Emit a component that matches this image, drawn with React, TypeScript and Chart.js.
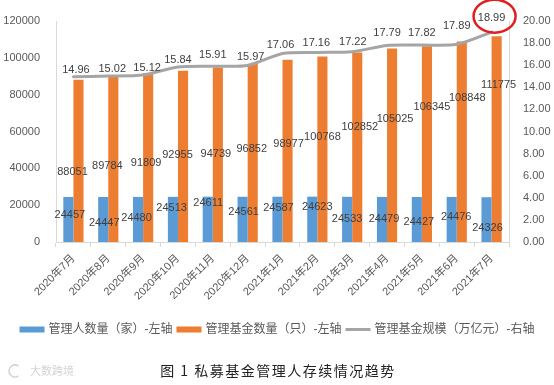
import React, { useEffect, useRef } from "react";
import { Chart, registerables } from "chart.js";

Chart.register(...registerables);

const categories = [
  "2020年7月", "2020年8月", "2020年9月", "2020年10月", "2020年11月", "2020年12月",
  "2021年1月", "2021年2月", "2021年3月", "2021年4月", "2021年5月", "2021年6月", "2021年7月",
];
const managers = [24457, 24447, 24480, 24513, 24611, 24561, 24587, 24623, 24533, 24479, 24427, 24476, 24326];
const funds = [88051, 89784, 91809, 92955, 94739, 96852, 98977, 100768, 102852, 105025, 106345, 108848, 111775];
const scale = [14.96, 15.02, 15.12, 15.84, 15.91, 15.97, 17.06, 17.16, 17.22, 17.79, 17.82, 17.89, 18.99];

const seriesNames = [
  "管理人数量（家）-左轴",
  "管理基金数量（只）-左轴",
  "管理基金规模（万亿元）-右轴",
];
const titleText = "图 1 私募基金管理人存续情况趋势";
const watermarkText = "大数跨境";

const BLUE = "#5B9BD5";
const ORANGE = "#ED7D31";
const GRAY = "#A5A5A5";
const TEXT = "#595959";
const LABEL = "#404040";
const AXIS = "#D9D9D9";
const FONT = "'Liberation Sans', 'Noto Sans CJK SC', sans-serif";

// label placement (pixel offsets, Excel-like manual label positions)
const blueDx = [1.5, 1, -1.5, -1.3, 0.5, 1, 1, 5, 0, 2, 2, 4.5, 1];
const blueDy = [18, 26, 21, 11, 6, 15, 11, 10, 22, 22, 25, 20, 31];
const orangeDx = [-6, -6, -2, -5.5, -2, -1, 1, 0, 2.6, 3, 5, 5.5, 2];
const orangeDy = [92, 89, 90, 84, 86, 85, 84, 81, 74, 70, 61, 56, 49];
const lineDx = [2.5, 4, 4, 0, 0, 3, -2, -1, 0.6, 0, 0, 0, 0];
const lineDy = [-7, -6.7, -6.6, -7, -11, -9, -8.5, -9.7, -10, -12, -12, -18.6, -14];

const labelsPlugin = {
  id: "customLabels",
  afterDatasetsDraw(chart: any) {
    const ctx = chart.ctx;
    ctx.save();
    ctx.font = `11px ${FONT}`;
    ctx.fillStyle = LABEL;
    ctx.textAlign = "center";
    ctx.textBaseline = "middle";
    const m0 = chart.getDatasetMeta(0);
    m0.data.forEach((el: any, i: number) => {
      ctx.fillText(String(managers[i]), el.x + blueDx[i], el.y + blueDy[i]);
    });
    const m1 = chart.getDatasetMeta(1);
    m1.data.forEach((el: any, i: number) => {
      ctx.fillText(String(funds[i]), el.x + orangeDx[i], el.y + orangeDy[i]);
    });
    const m2 = chart.getDatasetMeta(2);
    m2.data.forEach((el: any, i: number) => {
      ctx.fillText(scale[i].toFixed(2), el.x + lineDx[i], el.y + lineDy[i]);
    });
    // red highlight circle around the last value label
    const last = m2.data[m2.data.length - 1];
    if (last) {
      ctx.strokeStyle = "#E02020";
      ctx.lineWidth = 2.5;
      ctx.beginPath();
      ctx.ellipse(last.x + 3, last.y - 16, 21, 16.5, 0, 0, Math.PI * 2);
      ctx.stroke();
    }
    ctx.restore();
  },
};

const legendTitlePlugin = {
  id: "legendTitle",
  afterDraw(chart: any) {
    const ctx = chart.ctx;
    const W = chart.width;
    ctx.save();
    // legend
    ctx.font = `12px ${FONT}`;
    ctx.textBaseline = "middle";
    ctx.textAlign = "left";
    const colors = [BLUE, ORANGE, GRAY];
    const boxW = 25;
    const g1 = 4;
    const g2 = 4;
    const widths = seriesNames.map((t) => ctx.measureText(t).width);
    const total = widths.reduce((a, b) => a + b, 0) + 3 * (boxW + g1) + 2 * g2;
    let x = (W - total) / 2;
    const ly = 329.5;
    seriesNames.forEach((t, i) => {
      ctx.fillStyle = colors[i];
      if (i < 2) ctx.fillRect(x, ly - 3, boxW, 6);
      else ctx.fillRect(x, ly - 1.5, boxW, 3);
      x += boxW + g1;
      ctx.fillStyle = TEXT;
      ctx.fillText(t, x, ly);
      x += widths[i] + g2;
    });
    // title
    ctx.font = `14px 'Noto Sans CJK SC', serif`;
    (ctx as any).letterSpacing = "1.5px";
    ctx.fillStyle = "#222222";
    ctx.textAlign = "center";
    ctx.fillText(titleText, W / 2 + 1, 371);
    // watermark
    (ctx as any).letterSpacing = "0px";
    ctx.font = `11px 'Noto Sans CJK SC', sans-serif`;
    ctx.fillStyle = "#D4D4D4";
    ctx.textAlign = "left";
    ctx.fillText(watermarkText, 30, 371);
    ctx.strokeStyle = "#D4D4D4";
    ctx.lineWidth = 1.5;
    ctx.beginPath();
    ctx.arc(15, 371, 6, Math.PI * 0.3, Math.PI * 1.7);
    ctx.stroke();
    ctx.restore();
  },
};

export default function App() {
  const ref = useRef<HTMLCanvasElement | null>(null);
  useEffect(() => {
    document.body.style.margin = "0";
    const canvas = ref.current;
    if (!canvas) return;
    const chart = new Chart(canvas, {
      type: "bar",
      data: {
        labels: categories,
        datasets: [
          {
            type: "bar",
            label: seriesNames[0],
            data: managers,
            backgroundColor: BLUE,
            yAxisID: "y",
            order: 1,
            categoryPercentage: 0.58,
            barPercentage: 1,
          },
          {
            type: "bar",
            label: seriesNames[1],
            data: funds,
            backgroundColor: ORANGE,
            yAxisID: "y",
            order: 1,
            categoryPercentage: 0.58,
            barPercentage: 1,
          },
          {
            type: "line",
            label: seriesNames[2],
            data: scale,
            borderColor: GRAY,
            backgroundColor: GRAY,
            borderWidth: 3,
            pointRadius: 0,
            tension: 0.25,
            yAxisID: "y1",
            order: 0,
            borderJoinStyle: "round",
            borderCapStyle: "round",
          } as any,
        ],
      },
      options: {
        responsive: false,
        animation: false,
        layout: { padding: { top: 21, left: 0, right: 0, bottom: 0 } },
        plugins: {
          legend: { display: false },
          tooltip: { enabled: false },
          title: { display: false },
        },
        scales: {
          x: {
            offset: true,
            grid: {
              display: true,
              drawOnChartArea: false,
              drawTicks: true,
              tickLength: 5,
              color: AXIS,
              offset: true,
            },
            border: { display: true, color: AXIS, width: 1 },
            ticks: {
              color: TEXT,
              font: { size: 11, family: FONT },
              maxRotation: 45,
              minRotation: 45,
              autoSkip: false,
              padding: 5,
            },
            afterFit(s: any) {
              s.height = 143;
            },
          },
          y: {
            position: "left",
            min: 0,
            max: 120000,
            grid: { display: false },
            border: { display: true, color: AXIS, width: 1 },
            ticks: {
              stepSize: 20000,
              color: TEXT,
              font: { size: 11, family: FONT },
              padding: 8,
              callback: (v: any) => String(v),
            },
            afterFit(s: any) {
              s.width = 56;
            },
          },
          y1: {
            position: "right",
            min: 0,
            max: 20,
            grid: { display: false },
            border: { display: true, color: AXIS, width: 1 },
            ticks: {
              stepSize: 2,
              color: TEXT,
              font: { size: 11, family: FONT },
              padding: 6,
              callback: (v: any) => Number(v).toFixed(2),
            },
            afterFit(s: any) {
              s.width = 45;
            },
          },
        },
      } as any,
      plugins: [labelsPlugin, legendTitlePlugin],
    });
    return () => chart.destroy();
  }, []);
  return <canvas ref={ref} width={554} height={385} style={{ display: "block" }} />;
}
